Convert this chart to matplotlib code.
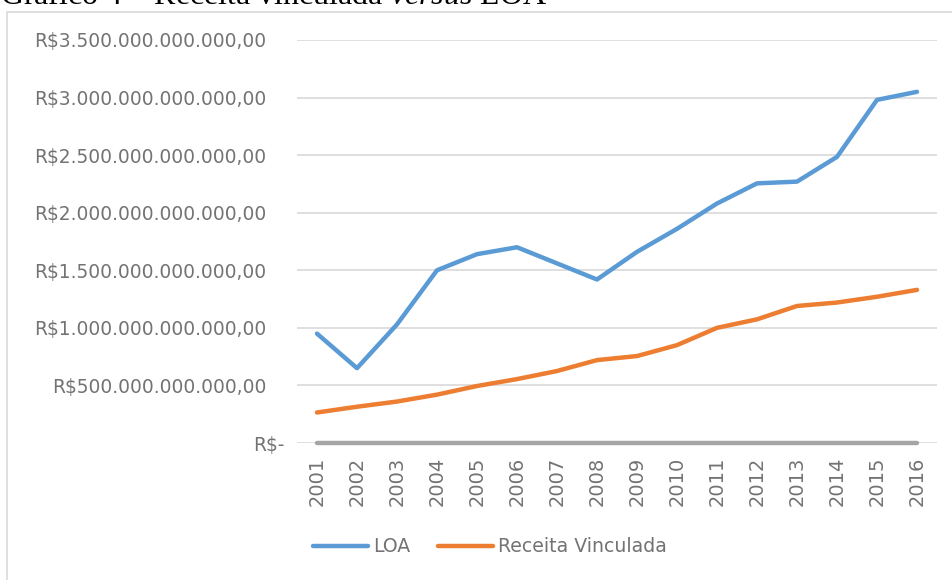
import matplotlib
matplotlib.use("Agg")
import matplotlib.pyplot as plt
from matplotlib.patches import Rectangle
from matplotlib.transforms import ScaledTranslation

anos = ["2001", "2002", "2003", "2004", "2005", "2006", "2007", "2008",
        "2009", "2010", "2011", "2012", "2013", "2014", "2015", "2016"]

# valores em trilhões de reais
loa = [0.95, 0.65, 1.03, 1.50, 1.64, 1.70, 1.56, 1.42,
       1.66, 1.86, 2.08, 2.255, 2.27, 2.485, 2.98, 3.05]
receita_vinculada = [0.265, 0.315, 0.36, 0.42, 0.495, 0.555, 0.625, 0.72,
                     0.755, 0.85, 1.00, 1.074, 1.19, 1.22, 1.27, 1.33]
serie_zero = [0.0] * len(anos)

ticks_y = [0, 0.5e12, 1.0e12, 1.5e12, 2.0e12, 2.5e12, 3.0e12, 3.5e12]
labels_y = ["R$-", "R$500.000.000.000,00", "R$1.000.000.000.000,00",
            "R$1.500.000.000.000,00", "R$2.000.000.000.000,00",
            "R$2.500.000.000.000,00", "R$3.000.000.000.000,00",
            "R$3.500.000.000.000,00"]

plt.rcParams["font.family"] = ["DejaVu Sans"]
plt.rcParams["mathtext.fontset"] = "custom"
plt.rcParams["mathtext.rm"] = "Liberation Serif"
plt.rcParams["mathtext.it"] = "Liberation Serif:italic"

texto = "#737373"
grade = "#d9d9d9"

fig = plt.figure(figsize=(9.52, 5.8), dpi=100)
ax = fig.add_axes([297 / 952, 1 - 443 / 580, 640 / 952, 403 / 580])

# moldura do gráfico
fig.patches.append(Rectangle((7 / 952, -0.1), 1.0, 1 - 12 / 580 + 0.1,
                             transform=fig.transFigure, fill=False,
                             edgecolor=grade, linewidth=1.2))

fig.text(0.0, 1 - 4 / 580, r"Gráfico 4 – Receita vinculada $\it{versus}$ LOA",
         family="Liberation Serif", fontsize=23, color="black", va="baseline")

x = list(range(len(anos)))
ax.plot(x, [v * 1e12 for v in loa], color="#5b9bd5", lw=3.2,
        solid_capstyle="round", solid_joinstyle="round", label="LOA", zorder=3)
ax.plot(x, [v * 1e12 for v in receita_vinculada], color="#ed7d31", lw=3.2,
        solid_capstyle="round", solid_joinstyle="round",
        label="Receita Vinculada", zorder=3)
ax.plot(x, serie_zero, color="#a5a5a5", lw=3.2, solid_capstyle="round",
        zorder=2, clip_on=False)

ax.set_xlim(-0.5, len(anos) - 0.5)
ax.set_ylim(0, 3.5e12)
ax.set_yticks(ticks_y)
ax.set_yticklabels(labels_y)
ax.set_xticks(x)
ax.set_xticklabels(anos, rotation=90)
ax.tick_params(axis="y", length=0, pad=22, labelsize=13.4, labelcolor=texto)
ax.tick_params(axis="x", length=0, pad=10, labelsize=14, labelcolor=texto)
ax.grid(axis="y", color=grade, lw=1.2)
ax.set_axisbelow(True)
for s in ax.spines.values():
    s.set_visible(False)

# no Excel o rótulo "R$-" fica mais à direita
rotulo_zero = ax.get_yticklabels()[0]
rotulo_zero.set_transform(rotulo_zero.get_transform()
                          + ScaledTranslation(0.18, 0, fig.dpi_scale_trans))

fig.legend(loc="center", bbox_to_anchor=(490 / 952, 1 - 547 / 580), ncol=2,
           frameon=False, fontsize=13.6, labelcolor=texto, handlelength=2.9,
           handletextpad=0.25, columnspacing=1.5)

fig.savefig("out.png", dpi=100)
